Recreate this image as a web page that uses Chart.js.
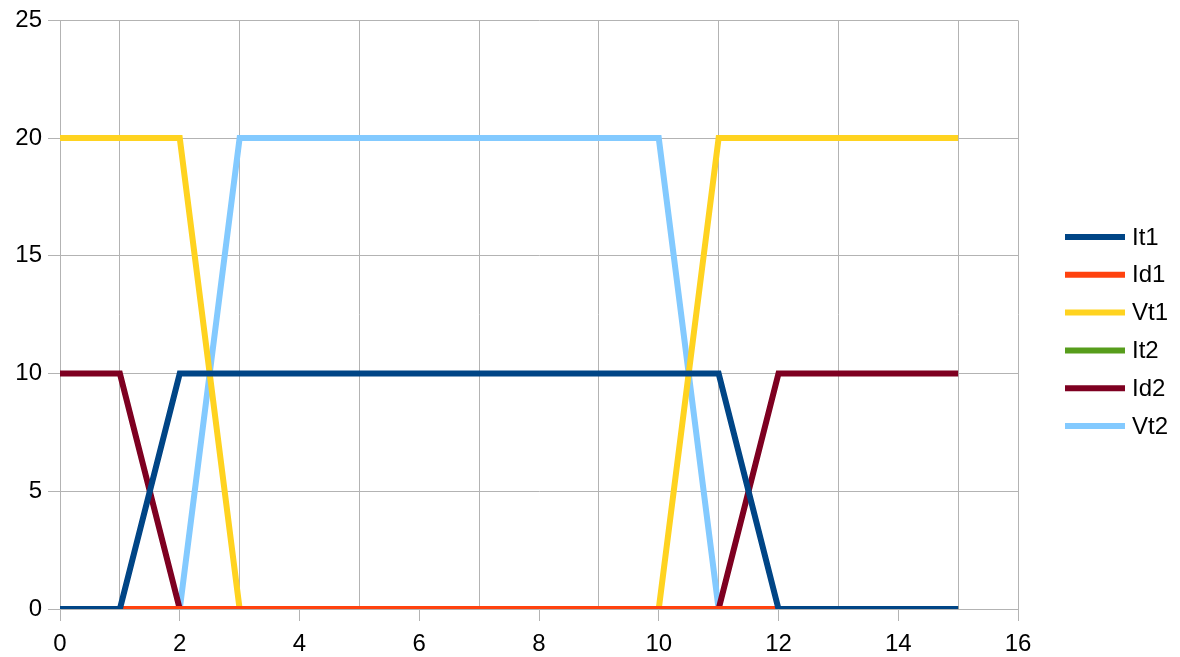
<!DOCTYPE html>
<html>
<head>
<meta charset="utf-8">
<script src="https://cdn.jsdelivr.net/npm/chart.js@4/dist/chart.umd.min.js"></script>
<style>
  html, body { margin: 0; padding: 0; background: #fff; }
  #wrap { width: 1180px; height: 657px; }
</style>
</head>
<body>
<div id="wrap"><canvas id="chart"></canvas></div>
<script>
const xValues = [0, 1, 2, 3, 4, 5, 6, 7, 8, 9, 10, 11, 12, 13, 14, 15];
const it1 = [0, 0, 10, 10, 10, 10, 10, 10, 10, 10, 10, 10, 0, 0, 0, 0];
const id1 = [0, 0, 0, 0, 0, 0, 0, 0, 0, 0, 0, 0, 0, 0, 0, 0];
const vt1 = [20, 20, 20, 0, 0, 0, 0, 0, 0, 0, 0, 20, 20, 20, 20, 20];
const it2 = [0, 0, 0, 0, 0, 0, 0, 0, 0, 0, 0, 0, 0, 0, 0, 0];
const id2 = [10, 10, 0, 0, 0, 0, 0, 0, 0, 0, 0, 0, 10, 10, 10, 10];
const vt2 = [0, 0, 0, 20, 20, 20, 20, 20, 20, 20, 20, 0, 0, 0, 0, 0];

const seriesNames = ['It1', 'Id1', 'Vt1', 'It2', 'Id2', 'Vt2'];
const seriesColors = ['#004586', '#ff420e', '#ffd320', '#579d1c', '#7e0021', '#83caff'];
const seriesValues = [it1, id1, vt1, it2, id2, vt2];

const gridGray = '#b3b3b3';
const fontFamily = 'Liberation Sans';

function points(values) {
    return values.map((v, i) => ({ x: xValues[i], y: v }));
}

// legend drawn by hand so it can sit where the original one is
const sideLegend = {
    id: 'sideLegend',
    afterDraw(chart) {
        const c = chart.ctx;
        const startY = 237;
        const step = 37.8;
        c.save();
        c.font = '24px "' + fontFamily + '"';
        c.textBaseline = 'middle';
        c.fillStyle = '#000';
        chart.data.datasets.forEach((ds, i) => {
            const y = startY + i * step;
            c.strokeStyle = ds.borderColor;
            c.lineWidth = 6;
            c.beginPath();
            c.moveTo(1065, y);
            c.lineTo(1125, y);
            c.stroke();
            c.fillText(ds.label, 1132, y + 1);
        });
        c.restore();
    }
};

const ctx = document.getElementById('chart').getContext('2d');
new Chart(ctx, {
    type: 'line',
    data: {
        datasets: seriesNames.map((name, i) => ({
            label: name,
            data: points(seriesValues[i]),
            borderColor: seriesColors[i],
            backgroundColor: seriesColors[i],
            borderWidth: 6,
            pointRadius: 0,
            tension: 0,
            fill: false
        }))
    },
    options: {
        responsive: true,
        maintainAspectRatio: false,
        animation: false,
        layout: {
            padding: { top: 20, right: 162, left: 0, bottom: 0 }
        },
        plugins: {
            tooltip: { enabled: false },
            legend: { display: false }
        },
        scales: {
            x: {
                type: 'linear',
                min: 0,
                max: 16,
                afterFit: (scale) => { scale.height = 48; },
                ticks: {
                    stepSize: 1,
                    autoSkip: false,
                    maxRotation: 0,
                    padding: 9,
                    color: '#000',
                    font: { family: fontFamily, size: 24 },
                    callback: (v) => (v % 2 === 0 ? v : '')
                },
                grid: {
                    color: (c) => {
                        const v = c.tick ? c.tick.value : 0;
                        return (v % 2 === 1 || v === 16) ? gridGray : 'rgba(0,0,0,0)';
                    },
                    tickColor: (c) => {
                        const v = c.tick ? c.tick.value : 0;
                        return v % 2 === 0 ? gridGray : 'rgba(0,0,0,0)';
                    },
                    tickLength: 12
                },
                border: { color: gridGray }
            },
            y: {
                min: 0,
                max: 25,
                afterFit: (scale) => { scale.width = 60; },
                ticks: {
                    stepSize: 5,
                    padding: 6,
                    color: '#000',
                    font: { family: fontFamily, size: 24 }
                },
                grid: {
                    color: gridGray,
                    tickLength: 12
                },
                border: { color: gridGray }
            }
        }
    },
    plugins: [sideLegend]
});
</script>
</body>
</html>
